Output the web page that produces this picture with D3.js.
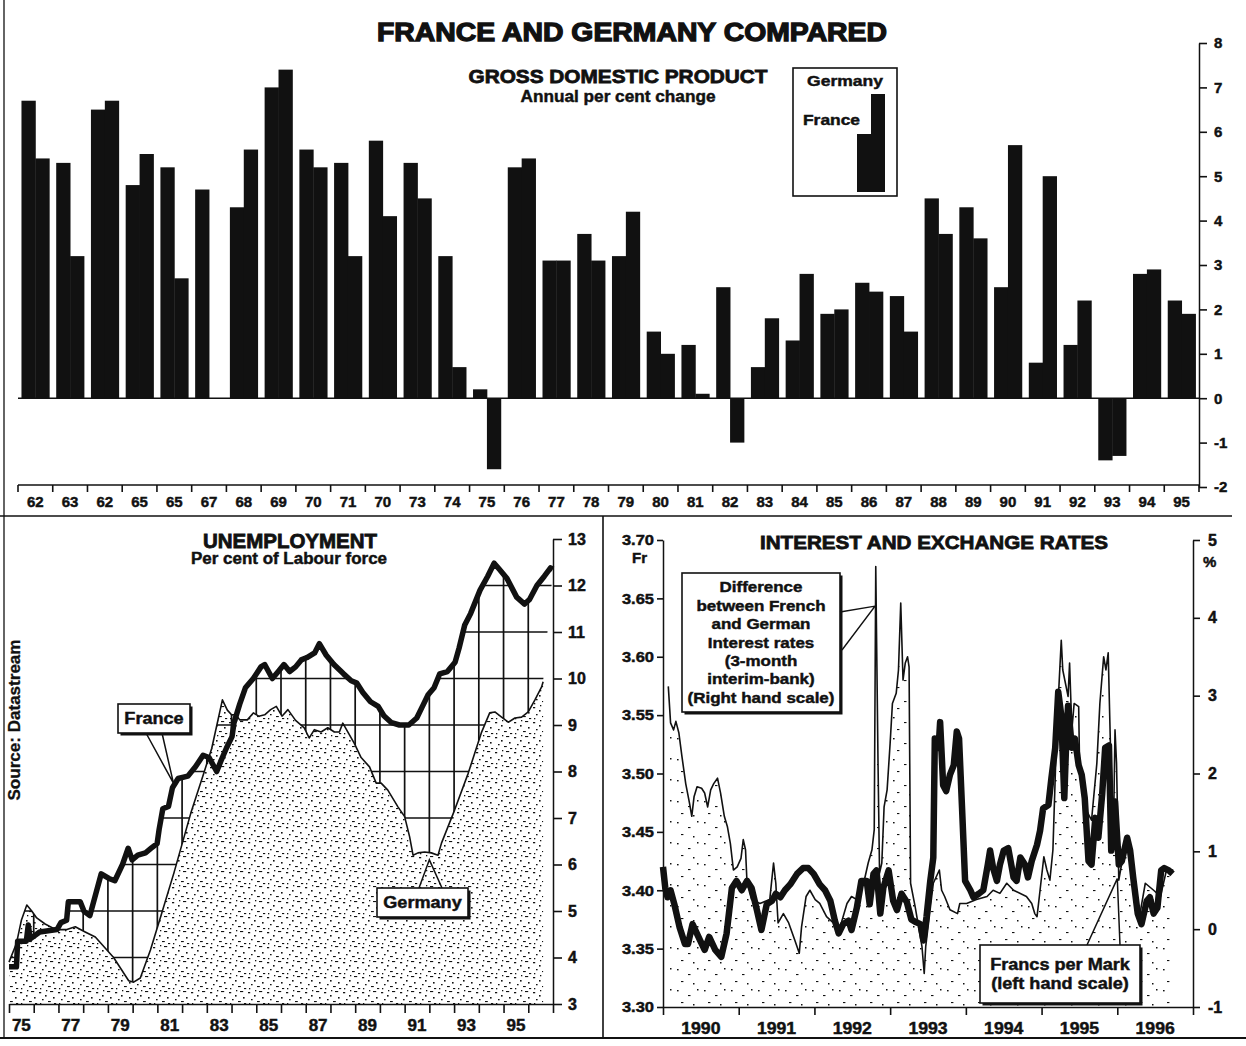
<!DOCTYPE html>
<html><head><meta charset="utf-8">
<script src="https://cdn.jsdelivr.net/npm/d3@7"></script>
<style>
body{margin:0;background:#fff;}
svg text{font-family:"Liberation Sans",Arial,Helvetica,sans-serif;font-weight:700;fill:#111;stroke:#111;stroke-width:0.45px;}
</style></head><body>
<svg id="c" width="1246" height="1046"></svg>
<script>
// ---------------- DATA ----------------
const gdpYears = [1962,1963,1964,1965,1966,1967,1968,1969,1970,1971,1972,1973,1974,1975,1976,1977,1978,1979,1980,1981,1982,1983,1984,1985,1986,1987,1988,1989,1990,1991,1992,1993,1994,1995];
const gdpLabels = ["62","63","62","65","65","67","68","69","70","71","70","73","74","75","76","77","78","79","80","81","82","83","84","85","86","87","88","89","90","91","92","93","94","95"];
const gdpFrance  = [6.7,5.3,6.5,4.8,5.2,4.7,4.3,7.0,5.6,5.3,5.8,5.3,3.2,0.2,5.2,3.1,3.7,3.2,1.5,1.2,2.5,0.7,1.3,1.9,2.6,2.3,4.5,4.3,2.5,0.8,1.2,-1.4,2.8,2.2];
const gdpGermany = [5.4,3.2,6.7,5.5,2.7,0.0,5.6,7.4,5.2,3.2,4.1,4.5,0.7,-1.6,5.4,3.1,3.1,4.2,1.0,0.1,-1.0,1.8,2.8,2.0,2.4,1.5,3.7,3.6,5.7,5.0,2.2,-1.3,2.9,1.9];
const gdpTicks = [-2,-1,0,1,2,3,4,5,6,7,8];

const unempFranceYears  = [1975.0,1975.3,1975.35,1975.7,1975.78,1975.86,1976.24,1976.94,1977.1,1977.33,1977.4,1977.88,1978.03,1978.27,1978.73,1979.04,1979.28,1979.59,1979.82,1979.98,1980.21,1980.52,1980.75,1980.99,1981.07,1981.22,1981.45,1981.61,1981.84,1982.23,1982.54,1982.85,1983.09,1983.4,1983.55,1983.79,1984.02,1984.1,1984.33,1984.56,1984.88,1985.19,1985.34,1985.65,1985.89,1986.12,1986.35,1986.59,1986.82,1987.05,1987.36,1987.55,1987.83,1988.14,1988.53,1988.84,1989.07,1989.31,1989.62,1989.93,1990.16,1990.47,1990.79,1991.17,1991.49,1991.72,1991.95,1992.19,1992.42,1992.73,1993.04,1993.2,1993.43,1993.67,1994.05,1994.36,1994.62,1994.83,1995.14,1995.53,1995.85,1996.05,1996.35,1996.65,1996.9,1997.0];
const unempFranceValues = [3.8,3.8,4.35,4.35,4.7,4.4,4.55,4.6,4.75,4.8,5.2,5.2,5.0,4.9,5.8,5.7,5.65,6.0,6.35,6.1,6.2,6.25,6.35,6.45,6.75,7.2,7.25,7.65,7.85,7.9,8.1,8.35,8.3,8.0,8.2,8.5,8.75,9.05,9.45,9.8,10.0,10.25,10.3,10.0,10.15,10.3,10.15,10.25,10.4,10.45,10.55,10.75,10.5,10.3,10.1,9.95,9.9,9.7,9.5,9.4,9.2,9.05,9.0,9.0,9.15,9.4,9.65,9.8,10.1,10.15,10.35,10.65,11.15,11.4,11.9,12.2,12.48,12.35,12.15,11.75,11.6,11.7,12.0,12.2,12.38,12.35];
const unempGermanyYears  = [1975.0,1975.3,1975.5,1975.72,1975.92,1976.12,1976.46,1976.9,1977.34,1977.68,1978.08,1978.49,1979.23,1979.84,1980.04,1980.31,1980.72,1981.13,1981.67,1982.35,1982.88,1983.2,1983.63,1983.83,1984.0,1984.18,1984.33,1984.64,1984.88,1985.1,1985.34,1985.58,1985.81,1986.04,1986.28,1986.59,1986.94,1987.14,1987.35,1987.62,1987.89,1988.16,1988.36,1988.5,1988.7,1988.97,1989.24,1989.58,1989.85,1990.05,1990.32,1990.73,1991.0,1991.2,1991.34,1991.54,1991.81,1992.08,1992.35,1992.49,1993.02,1993.57,1994.1,1994.44,1994.65,1994.92,1995.19,1995.46,1995.73,1996.0,1996.27,1996.54,1996.6];
const unempGermanyValues = [3.9,4.3,4.8,5.13,5.0,4.85,4.72,4.6,4.6,4.66,4.55,4.44,4.0,3.5,3.47,3.56,4.16,4.87,5.82,7.1,7.97,8.5,9.54,9.32,9.22,9.22,9.11,9.11,9.26,9.19,9.22,9.33,9.4,9.19,9.33,9.1,8.94,8.72,8.9,8.85,8.94,8.85,8.85,9.04,8.85,8.6,8.3,8.1,7.75,7.75,7.6,7.24,7.03,6.6,6.2,6.25,6.27,6.25,6.2,6.46,7.17,7.96,8.83,9.26,9.28,9.17,9.06,9.15,9.17,9.28,9.54,9.82,9.93];
const unempTickYears = [1975,1976,1977,1978,1979,1980,1981,1982,1983,1984,1985,1986,1987,1988,1989,1990,1991,1992,1993,1994,1995,1996,1997];
const unempLabelYears = [1975,1977,1979,1981,1983,1985,1987,1989,1991,1993,1995];
const unempLabels = ["75","77","79","81","83","85","87","89","91","93","95"];
const unempYTicks = [3,4,5,6,7,8,9,10,11,12,13];

const fxYears = [1990.0,1990.03,1990.06,1990.1,1990.15,1990.22,1990.29,1990.33,1990.39,1990.49,1990.55,1990.61,1990.69,1990.77,1990.84,1990.91,1990.97,1991.04,1991.11,1991.17,1991.24,1991.30,1991.37,1991.44,1991.49,1991.55,1991.61,1991.68,1991.77,1991.85,1991.92,1991.99,1992.07,1992.14,1992.21,1992.27,1992.32,1992.38,1992.45,1992.49,1992.56,1992.62,1992.69,1992.73,1992.78,1992.82,1992.87,1992.91,1992.98,1993.04,1993.09,1993.15,1993.22,1993.28,1993.33,1993.40,1993.44,1993.48,1993.53,1993.57,1993.59,1993.64,1993.66,1993.70,1993.74,1993.79,1993.84,1993.88,1993.91,1993.95,1993.99,1994.06,1994.10,1994.17,1994.23,1994.29,1994.32,1994.36,1994.41,1994.45,1994.50,1994.56,1994.63,1994.67,1994.72,1994.78,1994.82,1994.87,1994.94,1994.98,1995.02,1995.09,1995.13,1995.18,1995.22,1995.26,1995.30,1995.33,1995.35,1995.40,1995.44,1995.49,1995.53,1995.57,1995.62,1995.66,1995.71,1995.75,1995.80,1995.84,1995.89,1995.92,1995.95,1995.97,1996.02,1996.06,1996.13,1996.17,1996.21,1996.27,1996.32,1996.39,1996.43,1996.48,1996.53,1996.58,1996.62,1996.68,1996.73];
const fxValues = [3.420,3.402,3.394,3.400,3.388,3.368,3.354,3.354,3.371,3.357,3.349,3.360,3.349,3.343,3.363,3.402,3.408,3.400,3.408,3.402,3.383,3.366,3.388,3.391,3.397,3.394,3.400,3.405,3.414,3.419,3.419,3.414,3.405,3.400,3.391,3.374,3.363,3.371,3.374,3.366,3.385,3.408,3.408,3.388,3.414,3.417,3.380,3.402,3.417,3.391,3.383,3.397,3.390,3.375,3.373,3.371,3.357,3.377,3.408,3.428,3.530,3.522,3.544,3.490,3.485,3.499,3.507,3.536,3.530,3.470,3.408,3.400,3.394,3.397,3.400,3.422,3.434,3.419,3.408,3.422,3.434,3.436,3.411,3.408,3.428,3.422,3.411,3.425,3.439,3.451,3.470,3.473,3.496,3.522,3.570,3.550,3.479,3.536,3.558,3.522,3.530,3.507,3.499,3.479,3.425,3.422,3.462,3.445,3.482,3.522,3.524,3.434,3.451,3.476,3.422,3.425,3.445,3.434,3.411,3.380,3.371,3.391,3.394,3.380,3.385,3.417,3.419,3.417,3.414];
const diffYears = [1990.07,1990.10,1990.14,1990.17,1990.21,1990.25,1990.30,1990.35,1990.38,1990.41,1990.45,1990.51,1990.55,1990.59,1990.63,1990.67,1990.72,1990.76,1990.81,1990.85,1990.89,1990.93,1990.98,1991.03,1991.06,1991.09,1991.11,1991.17,1991.28,1991.41,1991.46,1991.49,1991.52,1991.59,1991.66,1991.74,1991.80,1991.83,1991.89,1991.94,1992.01,1992.07,1992.16,1992.25,1992.34,1992.43,1992.49,1992.56,1992.65,1992.71,1992.76,1992.79,1992.81,1992.84,1992.86,1992.89,1992.92,1992.96,1993.00,1993.03,1993.08,1993.11,1993.14,1993.17,1993.20,1993.23,1993.25,1993.27,1993.33,1993.42,1993.45,1993.47,1993.57,1993.65,1993.68,1993.72,1993.79,1993.89,1993.92,1994.01,1994.14,1994.28,1994.36,1994.45,1994.54,1994.63,1994.80,1994.87,1994.91,1994.94,1994.98,1995.03,1995.07,1995.11,1995.15,1995.20,1995.26,1995.28,1995.35,1995.37,1995.40,1995.43,1995.49,1995.50,1995.55,1995.59,1995.66,1995.73,1995.77,1995.82,1995.85,1995.88,1995.91,1995.95,1995.97,1995.99,1996.02,1996.06,1996.13,1996.21,1996.30,1996.37,1996.48,1996.57,1996.65,1996.74];
const diffValues = [3.12,2.65,2.56,2.67,2.52,2.22,1.87,1.62,1.45,1.70,1.83,1.81,1.75,1.57,1.79,1.87,1.94,1.75,1.45,1.32,1.10,0.76,0.80,0.91,1.15,1.02,0.59,0.38,0.33,0.38,0.85,0.59,0.08,0.20,0.08,-0.14,-0.31,0.03,0.42,0.50,0.38,0.33,0.16,0.08,0.03,0.33,0.42,0.38,0.59,0.85,1.02,1.28,4.66,2.13,0.72,0.85,1.57,1.79,2.39,2.90,3.03,3.33,4.19,3.20,3.42,3.50,3.37,0.59,0.29,-0.22,-0.57,-0.22,0.59,0.76,0.50,0.42,0.25,0.20,0.33,0.33,0.38,0.42,0.50,0.46,0.59,0.50,0.42,0.33,0.20,0.16,0.50,0.93,0.76,0.63,1.02,2.56,3.71,3.33,2.99,3.42,2.56,2.90,2.86,2.22,1.70,1.53,1.40,2.13,2.90,3.50,3.33,3.55,2.34,1.28,2.56,2.13,0.63,0.85,1.06,0.63,0.20,0.59,0.50,0.42,0.76,0.76];
const rateYearTicks = [1990,1991,1992,1993,1994,1995,1996,1997];
const rateYearLabels = ["1990","1991","1992","1993","1994","1995","1996"];
const fxTicks = [3.30,3.35,3.40,3.45,3.50,3.55,3.60,3.65,3.70];
const diffTicks = [-1,0,1,2,3,4,5];

// ---------------- HELPERS ----------------
const svg = d3.select("#c");
svg.append("rect").attr("width",1246).attr("height",1046).attr("fill","#fff");
const INK = "#111";
const intFmt = d => String(d);
function widen(sel, f){ sel.each(function(){ const L=this.getComputedTextLength(); this.setAttribute("textLength",(L*f).toFixed(1)); this.setAttribute("lengthAdjust","spacingAndGlyphs"); }); return sel; }
function fit(sel, w){ return sel.attr("textLength", w).attr("lengthAdjust","spacingAndGlyphs"); }
function styleAxis(g, fs){
  g.select(".domain").attr("stroke",INK).attr("stroke-width",1.5);
  g.selectAll(".tick line").attr("stroke",INK).attr("stroke-width",1.6);
  g.selectAll(".tick text").attr("font-size",fs).attr("font-weight",700).attr("fill",INK)
   .attr("font-family",'"Liberation Sans",Arial,sans-serif');
}
const defs = svg.append("defs");
function stipple(id, w, h, marks){
  const p = defs.append("pattern").attr("id",id).attr("patternUnits","userSpaceOnUse").attr("width",w).attr("height",h);
  p.selectAll("rect").data(marks).join("rect").attr("x",d=>d[0]).attr("y",d=>d[1]).attr("width",d=>d[2]).attr("height",d=>d[3]).attr("fill",INK);
}
stipple("dotsU", 19, 15, [[1,2,2.2,1.3],[7,5,1.6,1.6],[12,1,3.2,1.1],[4,9,1.6,1.3],[10,11,2.8,1.1],[15,7,1.6,1.6],[2,13,1.3,1.3],[16,13,2.2,1.1],[8,0,1.3,1.3]]);
stipple("dotsR", 27, 21, [[2,3,1.6,1.4],[13,8,2.5,1.1],[22,2,1.5,1.5],[6,15,2.4,1.1],[18,17,1.5,1.5]]);

// ---------------- FRAME ----------------
const frame = svg.append("g").attr("stroke",INK).attr("fill","none");
frame.append("line").attr("x1",4).attr("x2",4).attr("y1",0).attr("y2",1038).attr("stroke-width",1.3);
frame.append("line").attr("x1",0).attr("x2",1232).attr("y1",516).attr("y2",516).attr("stroke-width",1.6);
frame.append("line").attr("x1",603).attr("x2",603).attr("y1",516).attr("y2",1038).attr("stroke-width",1.6);
frame.append("line").attr("x1",0).attr("x2",1246).attr("y1",1038).attr("y2",1038).attr("stroke-width",1.8);

// ---------------- TOP: GDP ----------------
svg.append("text").attr("x",632).attr("y",41).attr("text-anchor","middle").attr("font-size",26)
  .style("stroke-width","1.3px").text("FRANCE AND GERMANY COMPARED").call(fit,510);
svg.append("text").attr("x",618).attr("y",83).attr("text-anchor","middle").attr("font-size",19)
  .style("stroke-width","0.8px").text("GROSS DOMESTIC PRODUCT").call(fit,299);
svg.append("text").attr("x",618).attr("y",102).attr("text-anchor","middle").attr("font-size",16)
  .text("Annual per cent change").call(fit,195);

const gx = d3.scaleBand().domain(gdpYears).range([18,1199]).paddingInner(0.2).paddingOuter(0.1);
const gsub = d3.scaleBand().domain(["France","Germany"]).range([0,gx.bandwidth()]);
const gy = d3.scaleLinear().domain([-2,8]).range([487,43]);
const gdpRows = gdpYears.map((y,i)=>({year:y,label:gdpLabels[i],France:gdpFrance[i],Germany:gdpGermany[i]}));

const bars = svg.append("g");
bars.selectAll("g").data(gdpRows).join("g").attr("transform",d=>`translate(${gx(d.year)},0)`)
  .selectAll("rect").data(d=>["France","Germany"].map(k=>({k,v:d[k]}))).join("rect")
  .attr("x",d=>gsub(d.k)).attr("width",gsub.bandwidth()+0.4)
  .attr("y",d=>gy(Math.max(0,d.v))).attr("height",d=>Math.abs(gy(d.v)-gy(0)))
  .attr("fill",INK);
svg.append("line").attr("x1",gx.range()[0]).attr("x2",gx.range()[1]).attr("y1",gy(0)).attr("y2",gy(0))
  .attr("stroke",INK).attr("stroke-width",1.5);

// bottom category axis
const xAxisY = 485;
const bounds = gdpYears.map(y=>gx(y)-gx.step()*gx.paddingInner()/2).concat([gx.range()[1]]);
const xa = svg.append("g");
xa.append("line").attr("x1",gx.range()[0]).attr("x2",gx.range()[1]).attr("y1",xAxisY).attr("y2",xAxisY).attr("stroke",INK).attr("stroke-width",1.5);
xa.selectAll("line.t").data(bounds).join("line").attr("class","t").attr("x1",d=>d).attr("x2",d=>d)
  .attr("y1",xAxisY).attr("y2",xAxisY+7).attr("stroke",INK).attr("stroke-width",1.6);
xa.selectAll("text").data(gdpRows).join("text").attr("x",d=>gx(d.year)+gx.bandwidth()/2).attr("y",507)
  .attr("text-anchor","middle").attr("font-size",15).text(d=>d.label);

const gyAx = svg.append("g").attr("transform","translate(1199,0)")
  .call(d3.axisRight(gy).tickValues(gdpTicks).tickSize(8).tickSizeOuter(0).tickPadding(7).tickFormat(intFmt));
styleAxis(gyAx,15);

// legend
const lg = svg.append("g");
lg.append("rect").attr("x",793).attr("y",68).attr("width",104).attr("height",128).attr("fill","none").attr("stroke",INK).attr("stroke-width",1.6);
lg.append("rect").attr("x",857).attr("y",134).attr("width",14).attr("height",58).attr("fill",INK);
lg.append("rect").attr("x",871).attr("y",94).attr("width",14).attr("height",98).attr("fill",INK);
lg.append("text").attr("x",883).attr("y",86).attr("text-anchor","end").attr("font-size",15).text("Germany").call(fit,76);
lg.append("text").attr("x",803).attr("y",125).attr("font-size",15).text("France").call(fit,57);

// ---------------- BOTTOM LEFT: UNEMPLOYMENT ----------------
const ux = d3.scaleLinear().domain([1975,1997]).range([9,553]);
const uy = d3.scaleLinear().domain([3,13]).range([1004,539]);
const fr = d3.zip(unempFranceYears,unempFranceValues);
const de = d3.zip(unempGermanyYears,unempGermanyValues);
const uLine = d3.line().x(d=>ux(d[0])).y(d=>uy(d[1]));

svg.append("path").datum(de).attr("d",d3.area().x(d=>ux(d[0])).y0(uy(3)).y1(d=>uy(d[1]))).attr("fill","url(#dotsU)");

const between = fr.map(d=>[ux(d[0]),uy(d[1])]).concat(de.map(d=>[ux(d[0]),uy(d[1])]).reverse());
defs.append("clipPath").attr("id","betweenClip").append("path").attr("d",d3.line()(between)+"Z");
const grid = svg.append("g").attr("clip-path","url(#betweenClip)").attr("stroke",INK).attr("stroke-width",1.7);
grid.selectAll("line.h").data(unempYTicks.slice(1,-1)).join("line").attr("class","h")
  .attr("x1",ux(1975)).attr("x2",ux(1997)).attr("y1",d=>uy(d)).attr("y2",d=>uy(d));
grid.selectAll("line.v").data(unempTickYears.slice(1,-1)).join("line").attr("class","v")
  .attr("x1",d=>ux(d)).attr("x2",d=>ux(d)).attr("y1",uy(3)).attr("y2",uy(13));

svg.append("path").datum(de).attr("d",uLine).attr("fill","none").attr("stroke",INK).attr("stroke-width",1.6).attr("stroke-linejoin","round");
svg.append("path").datum(fr).attr("d",uLine).attr("fill","none").attr("stroke",INK).attr("stroke-width",5.5).attr("stroke-linejoin","round");

const uyAx = svg.append("g").attr("transform",`translate(${ux(1997)},0)`)
  .call(d3.axisRight(uy).tickValues(unempYTicks).tickSize(9).tickSizeOuter(0).tickPadding(6).tickFormat(intFmt));
styleAxis(uyAx,16);
const uxAx = svg.append("g").attr("transform",`translate(0,${uy(3)})`)
  .call(d3.axisBottom(ux).tickValues(unempTickYears).tickSize(9).tickSizeOuter(0).tickFormat(""));
styleAxis(uxAx,16);
svg.append("g").selectAll("text").data(unempLabelYears).join("text")
  .attr("x",(d)=>ux(d+0.5)).attr("y",1031).attr("text-anchor","middle").attr("font-size",17)
  .text((d,i)=>unempLabels[i]);

svg.append("text").attr("x",290).attr("y",548).attr("text-anchor","middle").attr("font-size",20)
  .style("stroke-width","0.8px").text("UNEMPLOYMENT").call(fit,174);
svg.append("text").attr("x",289).attr("y",564).attr("text-anchor","middle").attr("font-size",16)
  .text("Per cent of Labour force").call(fit,196);
svg.append("text").attr("transform","translate(20,720) rotate(-90)").attr("text-anchor","middle")
  .attr("font-size",16).attr("font-weight",400).style("stroke-width","0.3px").text("Source: Datastream").call(fit,161);

function callout(x,y,w,h,lines,lh,fs,tail){
  const g = svg.append("g");
  if(tail) g.append("polyline").attr("points",tail.map(p=>p.join(",")).join(" ")).attr("fill","none").attr("stroke",INK).attr("stroke-width",1.5);
  g.append("rect").attr("x",x+2.5).attr("y",y+2.5).attr("width",w).attr("height",h).attr("fill",INK);
  g.append("rect").attr("x",x).attr("y",y).attr("width",w).attr("height",h).attr("fill","#fff").attr("stroke",INK).attr("stroke-width",1.6);
  lines.forEach((t,i)=>{
    g.append("text").attr("x",x+w/2).attr("y",lines.length===1? y+h/2+fs*0.36 : y+lh*(i+1)+ (h-lh*(lines.length+0.45))/2)
      .attr("text-anchor","middle").attr("font-size",fs).text(t).call(widen,1.13);
  });
  return g;
}
// France callout
const frTip = [ux(1981.65), uy(7.75)];
callout(118,704,72,29,["France"],0,16,[[146,733],frTip,[162,733]]);
// Germany callout
const deTip = [ux(1992.0), uy(6.1)];
callout(377,888,91,29,["Germany"],0,16,[[419,888],deTip,[442,888]]);

// ---------------- BOTTOM RIGHT: RATES ----------------
const ix = d3.scaleLinear().domain([1990,1997]).range([663,1193]);
const iyL = d3.scaleLinear().domain([3.30,3.70]).range([1007,540]);
const iyR = d3.scaleLinear().domain([-1,5]).range([1007,540]);
const fx = d3.zip(fxYears,fxValues);
const df = d3.zip(diffYears,diffValues);

svg.append("path").datum(df).attr("d",d3.area().x(d=>ix(d[0])).y0(iyR(-1)).y1(d=>iyR(d[1]))).attr("fill","url(#dotsR)");
svg.append("path").datum(df).attr("d",d3.line().x(d=>ix(d[0])).y(d=>iyR(d[1]))).attr("fill","none").attr("stroke",INK).attr("stroke-width",1.6).attr("stroke-linejoin","round");
svg.append("path").datum(fx).attr("d",d3.line().x(d=>ix(d[0])).y(d=>iyL(d[1]))).attr("fill","none").attr("stroke",INK).attr("stroke-width",6.5).attr("stroke-linejoin","round");

const lAx = svg.append("g").attr("transform",`translate(${ix(1990)},0)`)
  .call(d3.axisLeft(iyL).tickValues(fxTicks).tickSize(6).tickSizeOuter(0).tickPadding(3).tickFormat(d3.format(".2f")));
styleAxis(lAx,15);
lAx.selectAll(".tick text").call(widen,1.1);
const rAx = svg.append("g").attr("transform",`translate(${ix(1997)},0)`)
  .call(d3.axisRight(iyR).tickValues(diffTicks).tickSize(7).tickSizeOuter(0).tickPadding(8).tickFormat(intFmt));
styleAxis(rAx,16);
const bAx = svg.append("g").attr("transform",`translate(0,${iyL(3.30)})`)
  .call(d3.axisBottom(ix).tickValues(rateYearTicks).tickSize(8).tickSizeOuter(0).tickFormat(""));
styleAxis(bAx,16);
svg.append("g").selectAll("text").data(rateYearLabels).join("text")
  .attr("x",(d,i)=>ix(rateYearTicks[i]+0.5)).attr("y",1034).attr("text-anchor","middle").attr("font-size",16).text(d=>d)
  .call(widen,1.1);
svg.append("text").attr("x",647).attr("y",563).attr("text-anchor","end").attr("font-size",15).text("Fr");
svg.append("text").attr("x",1203).attr("y",567).attr("font-size",15).text("%");

svg.append("text").attr("x",934).attr("y",549).attr("text-anchor","middle").attr("font-size",19)
  .style("stroke-width","0.8px").text("INTEREST AND EXCHANGE RATES").call(fit,348);

const diffTip = [ix(1992.8), iyR(4.15)];
callout(682,573,158,139,["Difference","between French","and German","Interest rates","(3-month","interim-bank)","(Right hand scale)"],18.4,15,null);
svg.append("polyline").attr("points",[[840,612],diffTip,[842,650]].map(p=>p.join(",")).join(" "))
  .attr("fill","none").attr("stroke",INK).attr("stroke-width",1.4);
const fxTip = [ix(1996.0), iyL(3.41)];
callout(980,945,160,58,["Francs per Mark","(left hand scale)"],19,16,[[1087,945],fxTip,[1120,945]]);
</script>
</body></html>
